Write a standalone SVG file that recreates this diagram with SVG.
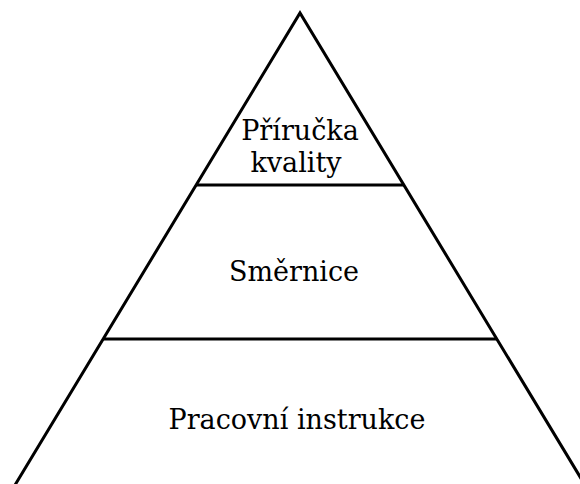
<svg xmlns="http://www.w3.org/2000/svg" width="580" height="484" viewBox="0 0 580 484">
  <style>
    .edge { stroke: #000; stroke-width: 3; fill: none; stroke-linecap: butt; stroke-linejoin: miter; }
    .label { font-family: "DejaVu Serif", "Liberation Serif", serif; font-size: 27px; fill: #000; text-anchor: middle; }
  </style>
  <rect width="580" height="484" fill="#fff"/>
  <g id="connectors">
    <polyline class="edge" points="12,490 300,13 588,490"/>
    <line class="edge" x1="196" y1="185" x2="404" y2="185"/>
    <line class="edge" x1="103" y1="339" x2="497" y2="339"/>
  </g>
  <g id="prirucka-kvality">
    <text class="label" x="300" y="140">Příručka</text>
    <text class="label" x="296" y="172">kvality</text>
  </g>
  <g id="smernice">
    <text class="label" x="294" y="281">Směrnice</text>
  </g>
  <g id="pracovni-instrukce">
    <text class="label" x="297" y="429">Pracovní instrukce</text>
  </g>
</svg>
